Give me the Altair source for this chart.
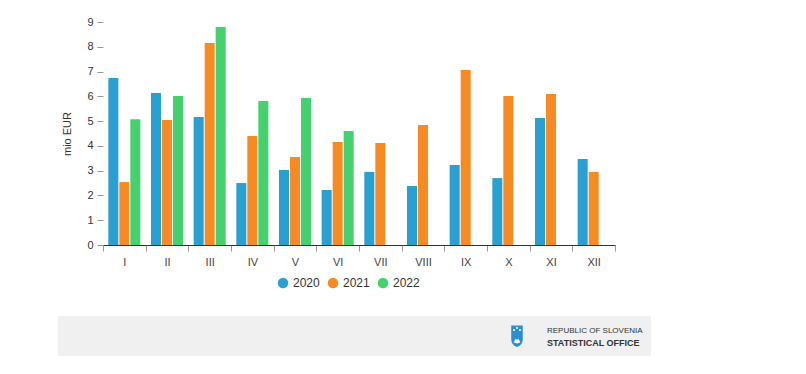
import altair as alt
import pandas as pd

months = ["I", "II", "III", "IV", "V", "VI", "VII", "VIII", "IX", "X", "XI", "XII"]
years = ["2020", "2021", "2022"]
v2020 = [6.74, 6.13, 5.17, 2.50, 3.03, 2.22, 2.95, 2.38, 3.23, 2.70, 5.13, 3.47]
v2021 = [2.54, 5.04, 8.15, 4.40, 3.55, 4.16, 4.12, 4.84, 7.06, 6.01, 6.09, 2.95]
v2022 = [5.08, 6.01, 8.80, 5.81, 5.93, 4.60]
colors = ["#2a9fd2", "#f68b23", "#46d16f"]

rows = []
for yr, vals in zip(years, [v2020, v2021, v2022]):
    for m, v in zip(months, vals):
        rows.append({"month": m, "year": yr, "value": v})
df = pd.DataFrame(rows)

FONT = "Liberation Sans"

bars = alt.Chart(df).mark_bar().encode(
    x=alt.X("month:N", sort=months, title=None,
            scale=alt.Scale(paddingInner=0, paddingOuter=0),
            axis=alt.Axis(tickBand="extent", labelAngle=0, domainColor="#333333",
                          tickColor="#999999", tickSize=6, labelPadding=5,
                          labelFontSize=11, labelColor="#444444", grid=False)),
    xOffset=alt.XOffset("year:N", sort=years,
                        scale=alt.Scale(paddingInner=0.09, paddingOuter=0.485)),
    y=alt.Y("value:Q", title="mio EUR",
            scale=alt.Scale(domain=[0, 9]),
            axis=alt.Axis(values=list(range(10)), domain=False, grid=False,
                          tickColor="#999999", tickSize=6, labelPadding=4,
                          labelFontSize=11, labelColor="#333333",
                          titleFontWeight="normal", titleFontSize=11,
                          titleColor="#333333", titlePadding=14)),
    color=alt.Color("year:N", sort=years, title=None,
                    scale=alt.Scale(domain=years, range=colors),
                    legend=alt.Legend(orient="none", legendX=174, legendY=255,
                                      direction="horizontal", symbolType="circle",
                                      symbolSize=110, symbolStrokeWidth=0,
                                      labelFontSize=12, labelColor="#333333",
                                      columnPadding=7, labelOffset=4, padding=0)),
)

one = pd.DataFrame({"k": [0]})
footer = alt.Chart(one).mark_rect(color="#f0f0f0", clip=False).encode(
    x=alt.value(-45), x2=alt.value(548), y=alt.value(294), y2=alt.value(334)
)
shield = alt.Chart(one).mark_point(
    shape="M-0.55,-1 L0.55,-1 L0.55,0.3 Q0.55,0.85 0,1.05 Q-0.55,0.85 -0.55,0.3 Z",
    filled=True, color="#2a8fd0", opacity=1, size=440, clip=False
).encode(x=alt.value(414), y=alt.value(314))
mountain = alt.Chart(one).mark_point(
    shape="M-0.7,0.5 L-0.25,-0.3 L0,0.05 L0.25,-0.3 L0.7,0.5 Q0,0.95 -0.7,0.5 Z",
    filled=True, color="white", opacity=1, size=90, clip=False
).encode(x=alt.value(414), y=alt.value(318))
stars_df = pd.DataFrame({"dx": [411, 414, 417], "dy": [308, 306, 308]})
stars = alt.Chart(stars_df).mark_circle(color="white", opacity=1, size=4, clip=False).encode(
    x=alt.X("dx:Q", scale=None), y=alt.Y("dy:Q", scale=None))
t1 = alt.Chart(one).mark_text(text="REPUBLIC OF SLOVENIA", align="left", baseline="middle",
                              fontSize=8, color="#333333", font=FONT, clip=False).encode(
    x=alt.value(444), y=alt.value(309))
t2 = alt.Chart(one).mark_text(text="STATISTICAL OFFICE", align="left", baseline="middle",
                              fontSize=9, fontWeight="bold", color="#333333", font=FONT,
                              clip=False).encode(
    x=alt.value(444), y=alt.value(321))

chart = alt.layer(footer, bars, shield, mountain, stars, t1, t2).properties(
    width=512, height=223, autosize="none",
    padding={"left": 95, "top": 14, "right": 100, "bottom": 120},
).configure(font=FONT).configure_view(stroke=None)

chart.save("out.html", embed_options={"renderer": "svg", "actions": False})
